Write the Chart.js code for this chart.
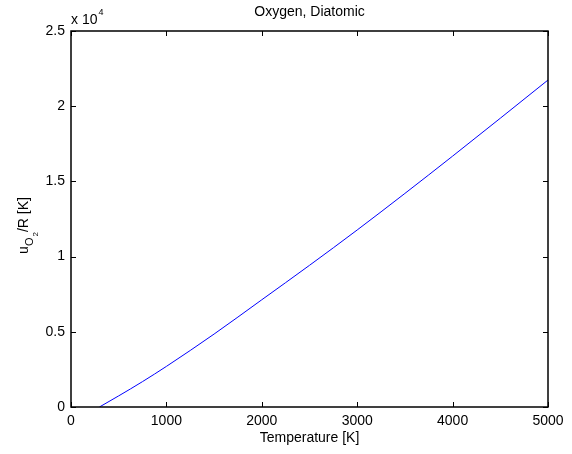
<!DOCTYPE html>
<html>
<head>
<meta charset="utf-8">
<script src="https://cdn.jsdelivr.net/npm/chart.js@4/dist/chart.umd.min.js"></script>
<style>
  html, body { margin: 0; padding: 0; background: #fff; }
  #wrap { width: 572px; height: 454px; }
</style>
</head>
<body>
<div id="wrap"><canvas id="c" width="572" height="454"></canvas></div>
<script>
// --- data ---
const temps = [298, 500, 750, 1000, 1500, 2000, 2500, 3000, 3500, 4000, 4500, 5000];
const uOverR = [0, 740, 1690, 2700, 4850, 7130, 9420, 11770, 14200, 16680, 19200, 21740];
const xTicks = [0, 1000, 2000, 3000, 4000, 5000];
const yTicks = [0, 5000, 10000, 15000, 20000, 25000];
const titleText = 'Oxygen, Diatomic';
const xLabel = 'Temperature [K]';

const FONT = '"Liberation Sans", Arial, sans-serif';
const SIZE = 14;

// box + inward tick marks, title, axis labels
const matlabAxes = {
    id: 'matlabAxes',
    afterDraw(chart) {
        const { ctx, chartArea: a, scales } = chart;
        ctx.save();
        ctx.strokeStyle = '#000';
        ctx.lineWidth = 1;
        // ticks
        ctx.beginPath();
        xTicks.forEach(v => {
            const px = Math.round(scales.x.getPixelForValue(v)) + 0.5;
            ctx.moveTo(px, a.bottom); ctx.lineTo(px, a.bottom - 5);
            ctx.moveTo(px, a.top); ctx.lineTo(px, a.top + 5);
        });
        yTicks.forEach(v => {
            const py = Math.round(scales.y.getPixelForValue(v)) + 0.5;
            ctx.moveTo(a.left, py); ctx.lineTo(a.left + 5, py);
            ctx.moveTo(a.right, py); ctx.lineTo(a.right - 5, py);
        });
        ctx.stroke();
        // box
        ctx.lineWidth = 1.5;
        ctx.strokeRect(a.left, a.top, a.right - a.left, a.bottom - a.top);

        ctx.fillStyle = '#000';
        // title
        ctx.font = SIZE + 'px ' + FONT;
        ctx.textAlign = 'center';
        ctx.textBaseline = 'middle';
        ctx.fillText(titleText, (a.left + a.right) / 2, 12);
        // x label
        ctx.fillText(xLabel, (a.left + a.right) / 2, 438);
        // exponent
        ctx.textAlign = 'left';
        ctx.fillText('x 10', a.left, 20);
        const w = ctx.measureText('x 10').width;
        ctx.font = '9px ' + FONT;
        ctx.fillText('4', a.left + w + 1, 13);

        // y label: u_{O_2}/R [K]
        ctx.translate(23, 226);
        ctx.rotate(-Math.PI / 2);
        const big = SIZE + 'px ' + FONT, small = '11px ' + FONT, tiny = '8px ' + FONT;
        const parts = [
            { t: 'u', f: big, dy: 0 },
            { t: 'O', f: small, dy: 5 },
            { t: '2', f: tiny, dy: 10 },
            { t: '/R [K]', f: big, dy: 0 }
        ];
        let total = 0;
        parts.forEach(p => { ctx.font = p.f; p.w = ctx.measureText(p.t).width; total += p.w; });
        let x = -total / 2;
        ctx.textBaseline = 'alphabetic';
        parts.forEach(p => {
            ctx.font = p.f;
            ctx.fillText(p.t, x, 5 + p.dy);
            x += p.w + (p.t === 'O' ? 1 : 0);
        });
        ctx.restore();
    }
};

new Chart(document.getElementById('c'), {
    type: 'line',
    data: {
        datasets: [{
            data: temps.map((t, i) => ({ x: t, y: uOverR[i] })),
            borderColor: '#0000ff',
            borderWidth: 1,
            pointRadius: 0,
            fill: false,
            cubicInterpolationMode: 'monotone'
        }]
    },
    options: {
        responsive: false,
        animation: false,
        layout: { padding: { top: 31, right: 24, left: 0, bottom: 0 } },
        plugins: { legend: { display: false }, tooltip: { enabled: false } },
        scales: {
            x: {
                type: 'linear',
                min: 0, max: 5000,
                afterBuildTicks: s => { s.ticks = xTicks.map(v => ({ value: v })); },
                afterFit: s => { s.height = 47; },
                grid: { display: false, drawTicks: false },
                border: { display: false },
                ticks: {
                    color: '#000', padding: 6, maxRotation: 0,
                    font: { family: FONT, size: SIZE },
                    callback: v => String(v)
                }
            },
            y: {
                min: 0, max: 25000,
                afterBuildTicks: s => { s.ticks = yTicks.map(v => ({ value: v })); },
                afterFit: s => { s.width = 71; },
                grid: { display: false, drawTicks: false },
                border: { display: false },
                ticks: {
                    color: '#000', padding: 6,
                    font: { family: FONT, size: SIZE },
                    callback: v => String(v / 10000)
                }
            }
        }
    },
    plugins: [matlabAxes]
});
</script>
</body>
</html>
